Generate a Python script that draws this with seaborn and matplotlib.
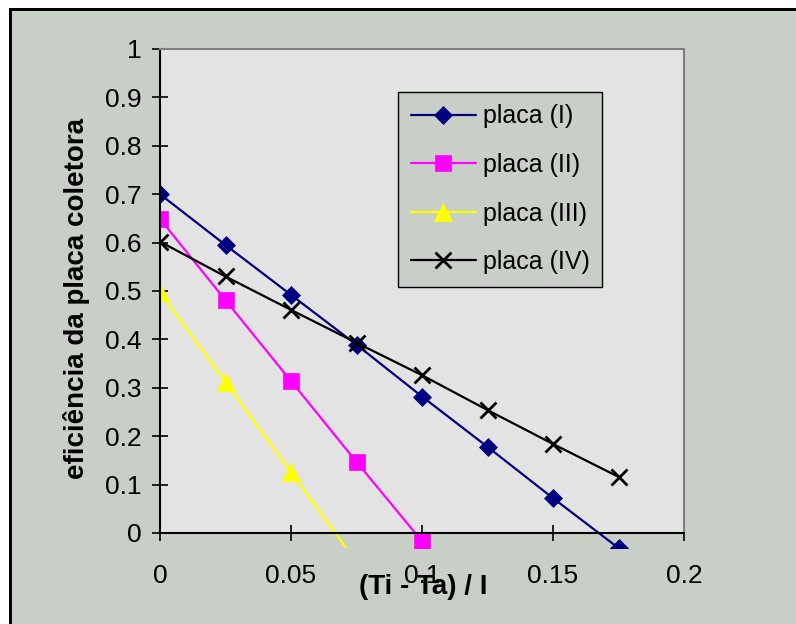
import matplotlib
matplotlib.use("Agg")
import matplotlib.pyplot as plt
from matplotlib.patches import Rectangle
import seaborn as sns
import pandas as pd

x_I = [0, 0.025, 0.05, 0.075, 0.1, 0.125, 0.15, 0.175]
y_I = [0.700, 0.595, 0.492, 0.389, 0.282, 0.178, 0.072, -0.031]
x_II = [0, 0.025, 0.05, 0.075, 0.1]
y_II = [0.649, 0.481, 0.314, 0.147, -0.017]
x_III = [0, 0.025, 0.05, 0.075]
y_III = [0.497, 0.312, 0.126, -0.06]
x_IV = [0, 0.025, 0.05, 0.075, 0.1, 0.125, 0.15, 0.175]
y_IV = [0.602, 0.530, 0.461, 0.393, 0.326, 0.254, 0.184, 0.116]
labels = ["placa (I)", "placa (II)", "placa (III)", "placa (IV)"]
x_ticks = [0, 0.05, 0.1, 0.15, 0.2]
x_tick_labels = ["0", "0.05", "0.1", "0.15", "0.2"]
y_ticks = [0, 0.1, 0.2, 0.3, 0.4, 0.5, 0.6, 0.7, 0.8, 0.9, 1]
y_tick_labels = ["0", "0.1", "0.2", "0.3", "0.4", "0.5", "0.6", "0.7", "0.8", "0.9", "1"]

sns.set_theme(style="white")
plt.rcParams['font.family'] = ['Liberation Sans', 'DejaVu Sans']
plt.rcParams['text.color'] = 'black'
plt.rcParams['axes.labelcolor'] = 'black'
plt.rcParams['xtick.color'] = 'black'
plt.rcParams['ytick.color'] = 'black'

FIG_BG = "#c8cfc7"
AX_BG = "#e3e3e3"

W, H = 796, 624
fig = plt.figure(figsize=(W/100, H/100), dpi=100, facecolor=FIG_BG)
ax = fig.add_axes([160/W, 1-533/H, 524/W, 484/H])
ax.set_facecolor(AX_BG)

series = [
    (x_I, y_I, "#000080", "D", 9.5, 0.5),
    (x_II, y_II, "#ff00ff", "s", 12, 0.5),
    (x_III, y_III, "#ffff00", "^", 12.5, 0.5),
    (x_IV, y_IV, "#000000", "x", 12, 2.0),
]
clip = Rectangle((0, -0.031), 1, 1.031, transform=ax.transAxes, fill=False, visible=False)
ax.add_patch(clip)
for (xs, ys, c, m, ms, mew), lab in zip(series, labels):
    df = pd.DataFrame({"x": xs, "y": ys})
    sns.lineplot(data=df, x="x", y="y", ax=ax, color=c, marker=m, markersize=ms,
                 markeredgewidth=mew, markeredgecolor=c, linewidth=1.6, label=lab)
for ln in ax.get_lines():
    ln.set_clip_path(clip)

ax.set_xlim(0, 0.2)
ax.set_ylim(0, 1)
ax.set_xticks(x_ticks)
ax.set_xticklabels(x_tick_labels)
ax.set_yticks(y_ticks)
ax.set_yticklabels(y_tick_labels)
ax.tick_params(axis="both", direction="inout", length=12, width=1.2, color="black",
               labelsize=19, labelcolor="black", left=True, bottom=True)
ax.tick_params(axis="x", pad=16)
ax.tick_params(axis="y", pad=7)
for s in ["left", "bottom"]:
    ax.spines[s].set_color("black")
    ax.spines[s].set_linewidth(1.5)
for s in ["top", "right"]:
    ax.spines[s].set_color("#808080")
    ax.spines[s].set_linewidth(1.5)
ax.set_xlabel("")
ax.set_ylabel("")

fig.text(423/W, 1-587/H, "(Ti - Ta) / I", ha="center", va="center",
         fontsize=20, fontweight="bold")
fig.text(77/W, 1-298/H, "eficiência da placa coletora", ha="center", va="center",
         rotation=90, fontsize=20, fontweight="bold")

leg = ax.legend(loc="upper left", bbox_to_anchor=((398-160)/524, (533-92)/484),
                frameon=True, fancybox=False, facecolor=FIG_BG, edgecolor="black",
                fontsize=18, handlelength=2.6, labelspacing=0.98, borderpad=0.5,
                handletextpad=0.3, borderaxespad=0)
leg.get_frame().set_linewidth(1.0)
leg.get_frame().set_alpha(1)

# white margin and black frame at top / left
fig.patches.append(Rectangle((0, 1-8/H), 1, 8/H, transform=fig.transFigure,
                             facecolor="white", edgecolor="none"))
fig.patches.append(Rectangle((0, 0), 9/W, 1, transform=fig.transFigure,
                             facecolor="white", edgecolor="none"))
fig.patches.append(Rectangle((9/W, 1-11/H), 1-9/W, 3/H, transform=fig.transFigure,
                             facecolor="black", edgecolor="none"))
fig.patches.append(Rectangle((9/W, 0), 3/W, 1-8/H, transform=fig.transFigure,
                             facecolor="black", edgecolor="none"))

fig.savefig("out.png", dpi=100, facecolor=FIG_BG)
